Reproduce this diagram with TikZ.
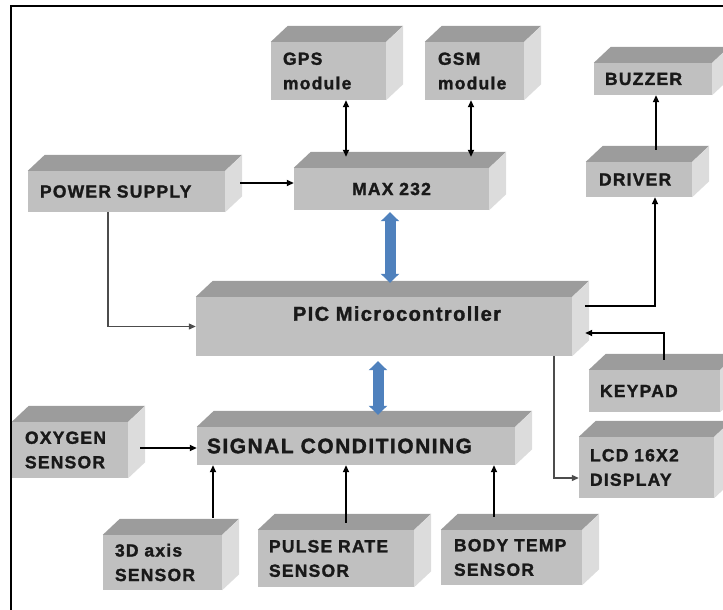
\documentclass[tikz,border=0pt]{standalone}
\usepackage{fontspec}
\setmainfont{Liberation Sans}
\newfontfamily\blockfont[LetterSpace=7, BoldFeatures={FakeBold=1.6}]{Liberation Sans}
\usetikzlibrary{arrows.meta,calc}

\definecolor{frontgrey}{HTML}{C0C0C0}
\definecolor{topgrey}{HTML}{9C9C9C}
\definecolor{sidegrey}{HTML}{DCDCDC}
\definecolor{busblue}{HTML}{4F81BD}

% top and side face of a block
\newcommand{\boxfaces}[1]{%
  \fill[topgrey] (#1.north west) -- ++(17,-16) -- ($(#1.north east)+(17,-16)$) -- (#1.north east) -- cycle;
  \fill[sidegrey] (#1.north east) -- ++(17,-16) -- ($(#1.south east)+(17,-16)$) -- (#1.south east) -- cycle;}

\begin{document}
\begin{tikzpicture}[x=1pt, y=-1pt,
  block/.style={fill=frontgrey, inner sep=0pt, align=left, text=black!90,
    font=\blockfont\bfseries\fontsize{17.5}{24.5}\selectfont},
  conn/.style={line width=1.8pt, -{Triangle[length=7pt,width=6pt]}},
  thinconn/.style={line width=1.1pt, draw=black!70, -{Triangle[length=7pt,width=6pt]}},
  both/.style={line width=1.8pt, {Triangle[length=7pt,width=6pt]}-{Triangle[length=7pt,width=6pt]}},
  bus/.style={line width=11pt, draw=busblue, {Triangle[length=9pt,width=18pt]}-{Triangle[length=9pt,width=18pt]}}]
\useasboundingbox (0,0) rectangle (723,610);

% frame
\draw[line width=2pt] (11,612) -- (11,6) -- (730,6);

% blocks
\node[block, minimum width=115pt, minimum height=58pt, text width=91pt] (gps) at (328.5,71) {GPS\\module};
\node[block, minimum width=99pt, minimum height=58pt, text width=73pt] (gsm) at (474.5,71) {GSM\\module};
\node[block, minimum width=118pt, minimum height=32pt, text width=96pt] (buzzer) at (653,79) {BUZZER};
\node[block, minimum width=197pt, minimum height=41pt, text width=173pt] (power) at (126.5,191.5) {POWER~SUPPLY};
\node[block, minimum width=195pt, minimum height=42pt, text width=171pt, align=center] (max) at (391.5,189) {MAX~232};
\node[block, minimum width=106pt, minimum height=35pt, text width=80pt] (driver) at (639,179.5) {DRIVER};
\node[block, minimum width=376pt, minimum height=59pt, text width=340pt, align=center, text depth=26pt,
  font=\blockfont\bfseries\fontsize{20}{24}\selectfont] (pic) at (384,326.5) {\hspace*{26pt}PIC~Microcontroller};
\node[block, minimum width=131pt, minimum height=42pt, text width=109pt] (keypad) at (654.5,391) {KEYPAD};
\node[block, minimum width=135pt, minimum height=61pt, text width=113pt] (lcd) at (646.5,467.5) {LCD~16X2\\DISPLAY};
\node[block, minimum width=318pt, minimum height=38pt, text width=298pt,
  font=\blockfont\bfseries\fontsize{21}{24}\selectfont] (signal) at (356,446) {SIGNAL~CONDITIONING};
\node[block, minimum width=116pt, minimum height=56pt, text width=90pt] (oxygen) at (70,450) {OXYGEN\\SENSOR};
\node[block, minimum width=119pt, minimum height=55pt, text width=95pt] (axis) at (162.5,562.5) {3D~axis\\SENSOR};
\node[block, minimum width=156pt, minimum height=57pt, text width=134pt] (pulse) at (336,558.5) {PULSE~RATE\\SENSOR};
\node[block, minimum width=141pt, minimum height=55pt, text width=115pt] (body) at (511.5,557.5) {BODY~TEMP\\SENSOR};

\boxfaces{gps}
\boxfaces{gsm}
\boxfaces{buzzer}
\boxfaces{power}
\boxfaces{max}
\boxfaces{driver}
\boxfaces{pic}
\boxfaces{keypad}
\boxfaces{lcd}
\boxfaces{signal}
\boxfaces{oxygen}
\boxfaces{axis}
\boxfaces{pulse}
\boxfaces{body}

% modules <-> MAX 232
\coordinate (gpsbus) at ([xshift=17.5pt]gps.south);
\coordinate (gsmbus) at ([xshift=-3.5pt]gsm.south);
\coordinate (maxtop) at ([yshift=11pt]max.north);
\draw[both] (gpsbus) -- (gpsbus |- maxtop);
\draw[both] (gsmbus) -- (gsmbus |- maxtop);

% power supply
\coordinate (pwrout) at ([xshift=15pt,yshift=8.5pt]power.east);
\draw[conn] (pwrout) -- (pwrout -| max.west);
\draw[thinconn] ([xshift=-18.5pt]power.south) |- (pic.west);

% buses
\coordinate (maxbus) at ([xshift=-1.5pt,yshift=-2pt]max.south);
\coordinate (pictop) at ([yshift=14pt]pic.north);
\draw[bus] (maxbus) -- (maxbus |- pictop);
\coordinate (picbus) at ([xshift=-6pt,yshift=-5pt]pic.south);
\coordinate (sigtop) at ([yshift=12pt]signal.north);
\draw[bus] (picbus) -- (picbus |- sigtop);

% outputs of the controller
\coordinate (picout) at ([xshift=13pt,yshift=20.5pt]pic.east);
\coordinate (drvin) at ([xshift=16pt]driver.south);
\draw[conn] (picout) -| (drvin);
\coordinate (drvout) at ([xshift=17pt,yshift=12pt]driver.north);
\draw[conn] (drvout) -- (drvout |- buzzer.south);
\coordinate (keyout) at ([xshift=9.5pt,yshift=10pt]keypad.north);
\coordinate (picin) at ([xshift=13pt,yshift=-6.5pt]pic.east);
\draw[conn] (keyout) |- (picin);
\draw[thinconn] ([xshift=170pt]pic.south) |- ([yshift=-10.5pt]lcd.west);

% sensors
\coordinate (oxyout) at ([xshift=12pt,yshift=2pt]oxygen.east);
\draw[conn] (oxyout) -- (oxyout -| signal.west);
\coordinate (axisout) at ([xshift=50.5pt,yshift=17pt]axis.north);
\draw[conn] (axisout) -- (axisout |- signal.south);
\coordinate (pulseout) at ([xshift=10pt,yshift=7pt]pulse.north);
\draw[conn] (pulseout) -- (pulseout |- signal.south);
\coordinate (bodyout) at ([xshift=-17.5pt,yshift=13pt]body.north);
\draw[conn] (bodyout) -- (bodyout |- signal.south);
\end{tikzpicture}
\end{document}
